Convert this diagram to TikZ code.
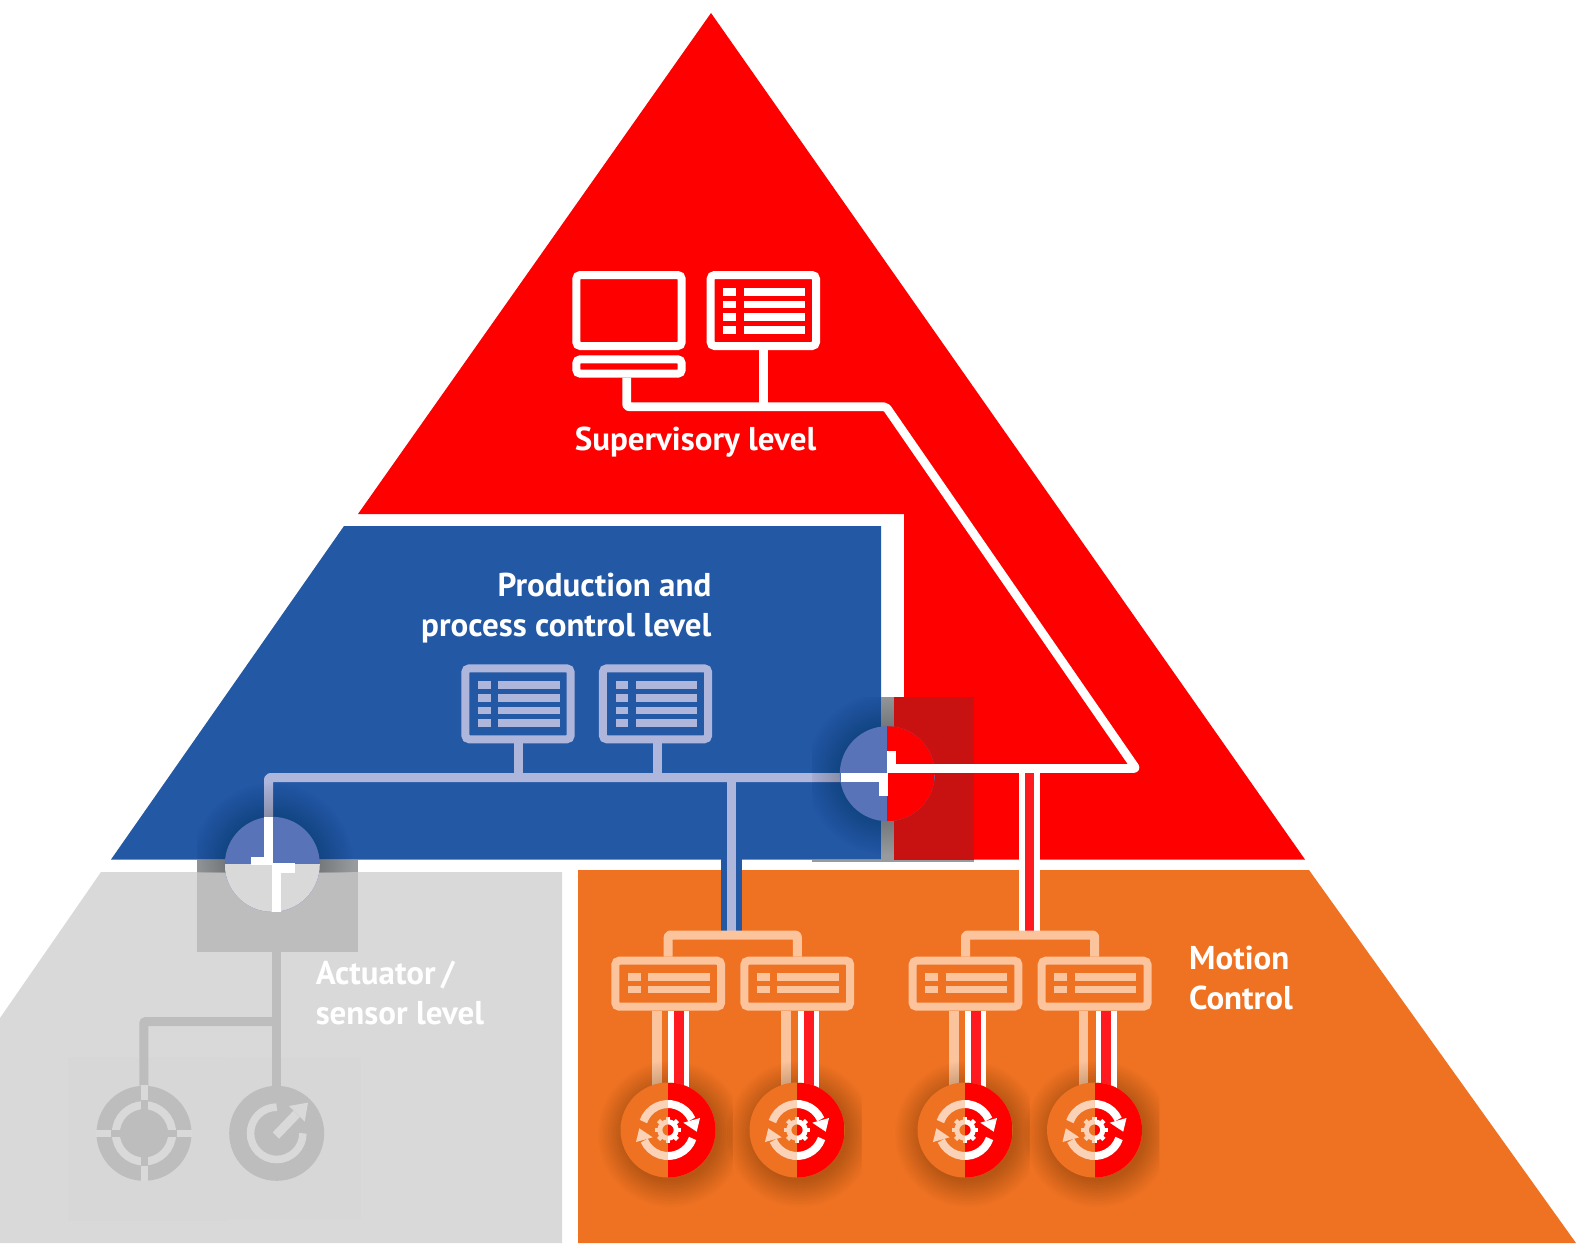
\documentclass[tikz,border=0pt]{standalone}
\usepackage{fontspec}
\newfontfamily\labelfont[FakeStretch=1.0]{PT Sans}
\definecolor{topred}{HTML}{FF0000}
\definecolor{darkred}{HTML}{C81212}
\definecolor{corered}{HTML}{FF1A1F}
\definecolor{midblue}{HTML}{2358A5}
\definecolor{hubblue}{HTML}{5873B8}
\definecolor{paleblue}{HTML}{AEB6DC}
\definecolor{motionorange}{HTML}{EF7222}
\definecolor{peach}{HTML}{FBC49C}
\definecolor{palepeach}{HTML}{FAD2B8}
\definecolor{fieldgrey}{HTML}{D9D9D9}
\definecolor{facegrey}{HTML}{D7D7D7}
\definecolor{shadegrey}{HTML}{BDBDBD}
\definecolor{stripgrey}{HTML}{989B9D}
\tikzset{
  box/.style={draw=#1, line width=8pt, rounded corners=4pt, inner sep=0pt},
  screen/.style={box=#1, minimum width=105.4pt, minimum height=71pt},
  keyboard/.style={box=#1, minimum width=105.4pt, minimum height=14.4pt},
  controller/.style={box=#1, minimum width=105.8pt, minimum height=46pt},
  link/.style={draw=#1, line width=9pt, line join=round, rounded corners=2pt},
  hub/.style={circle, minimum size=95pt, inner sep=0pt, fill=hubblue},
  title/.style={font=\labelfont\bfseries\fontsize{33}{40}\selectfont, text=white, inner sep=0pt},
}
\newcommand\listrows[4]{%
  \begin{scope}[shift={(#1.north west)}]
    \foreach \r in {#3} {
      \fill[#2] (16.7,{#4+12.6*\r}) rectangle +(12.7,7.7);
      \fill[#2] (37,{#4+12.6*\r}) rectangle +(61.5,7.7);
    }
  \end{scope}}
\newcommand\softglow[4]{%
  \foreach \g in {47,49,...,#3}
    \fill[black, fill opacity=#4] (#1,#2) circle [radius=\g];}
\newcommand\spinicon[1]{%
  \draw[#1, line width=8pt] (161:26) arc[start angle=161, end angle=24, radius=26];
  \fill[#1] (32,12) -- (15.3,7.3) -- (28.7,-1.7) -- cycle;
  \draw[#1, line width=8pt] (-19:26) arc[start angle=-19, end angle=-156, radius=26];
  \fill[#1] (-32,-12) -- (-15.3,-7.3) -- (-28.7,1.7) -- cycle;
  \draw[#1, line width=5pt] (0,0) circle [radius=8.2];
  \foreach \a in {0,45,...,315} \draw[#1, line width=4.5pt] (\a:9) -- (\a:13.3);}
\begin{document}
\begin{tikzpicture}[x=1pt, y=-1pt]
\useasboundingbox (0,0) rectangle (1576,1243);
\fill[fieldgrey] (101,872) -- (562,872) -- (562,1243) -- (0,1243) -- (0,1018) -- cycle;
\fill[motionorange] (578,870) -- (1309,870) -- (1576,1243) -- (578,1243) -- cycle;
\fill[topred] (711,13) -- (1305,859.5) -- (904,859.5) -- (904,514) -- (358,514) -- cycle;
\fill[midblue] (344,526) -- (881,526) -- (881,859.5) -- (111,859.5) -- cycle;
\fill[darkred] (894,697) rectangle (974,859.5);
\fill[stripgrey] (881,697) rectangle (894,859.5);
\fill[stripgrey] (812,859.5) rectangle (974,862);
\fill[shadegrey] (197,872) rectangle (358,952);
\fill[stripgrey] (197,859.5) rectangle (358,872);
\fill[facegrey] (68,1057) rectangle (229,1221);
\fill[facegrey] (229,1058) rectangle (361,1219);
%
\node[screen=white] (scrA) at (629,310.5) {};
\node[keyboard=white] (kbdA) at (629,366.5) {};
\node[screen=white] (scrB) at (763.3,310.5) {};
\listrows{scrB}{white}{0,1,2,3}{17}
\coordinate (turnA) at (626.7,406.7);
\coordinate (turnB) at (886,406.7);
\coordinate (turnC) at (1136,768.5);
\coordinate (hubIn) at (887,768.5);
\node[screen=paleblue] (scrC) at (518,703.8) {};
\node[screen=paleblue] (scrD) at (655.5,703.8) {};
\listrows{scrC}{paleblue}{0,1,2,3}{17}
\listrows{scrD}{paleblue}{0,1,2,3}{17}
\coordinate (busA) at (268.5,777.5);
\coordinate (busB) at (841,777.5);
\coordinate (tapC) at (518.2,777.5);
\coordinate (tapD) at (657.8,777.5);
\coordinate (tapE) at (731,777.5);
\coordinate (tapF) at (1029.5,773);
\coordinate (barA) at (733,935);
\coordinate (barB) at (1030.3,935);
\node[controller=peach] (ctlA) at (668.2,983.7) {};
\node[controller=peach] (ctlB) at (797.3,983.7) {};
\node[controller=peach] (ctlC) at (965.5,983.7) {};
\node[controller=peach] (ctlD) at (1094.6,983.7) {};
\foreach \c in {ctlA,ctlB,ctlC,ctlD} \listrows{\c}{peach}{0,1}{16.4}
%
\draw[link=midblue, line width=21pt, rounded corners=0pt] (tapE) -- (tapE |- barA);
\draw[link=paleblue, rounded corners=0pt] (tapE) -- (tapE |- barA);
\draw[link=white, line width=21pt, rounded corners=0pt] (tapF) -- (tapF |- barB);
\draw[link=corered, line width=9.5pt, rounded corners=0pt] (tapF) -- (tapF |- barB);
\draw[link=peach] (ctlA.north) |- (barA) -| (ctlB.north);
\draw[link=peach] (ctlC.north) |- (barB) -| (ctlD.north);
\draw[link=white, line width=8.6pt] (turnA |- kbdA.south) -- (turnA) -- (turnB) -- (turnC) -- (hubIn);
\draw[link=white, line width=8.6pt, rounded corners=0pt] (scrB.south) -- (scrB.south |- turnB);
\draw[link=paleblue] (busA |- 0,820) -- (busA) -- (busB);
\draw[link=paleblue, rounded corners=0pt] (tapC |- scrC.south) -- (tapC);
\draw[link=paleblue, rounded corners=0pt] (tapD |- scrD.south) -- (tapD);
%
\begin{scope}
\clip (197,760) rectangle (358,872);
\softglow{272.3}{864.3}{81}{.012}
\end{scope}
\begin{scope}
\clip (812,697) rectangle (894,862);
\softglow{887.3}{773.7}{81}{.012}
\end{scope}
%
\node[hub, path picture={\fill[topred] (path picture bounding box.north) rectangle (path picture bounding box.south east);}] (hubB) at (887.3,773.7) {};
\node[hub, path picture={\fill[fieldgrey] (path picture bounding box.west) rectangle (path picture bounding box.south east);}] (hubA) at (272.3,864.3) {};
\fill[white] (887,764) rectangle (935,773);
\fill[white] (887,751) rectangle (896,773);
\fill[white] (841,773) rectangle (888,782);
\fill[white] (879,773) rectangle (888,796);
\fill[white] (264,817) rectangle (273,865);
\fill[white] (251,857) rectangle (273,865);
\fill[white] (272,863) rectangle (295,873);
\fill[white] (272,863) rectangle (281,912);
%
\foreach \nm/\cx/\ctl/\off in {motA/668/ctlA/10.5,motB/797/ctlB/11.7,motC/965/ctlC/10.5,motD/1094.5/ctlD/11.7} {
  \coordinate (\nm p) at ({\cx-11},1090);
  \coordinate (\nm r) at ({\cx+\off},1090);
  \draw[link=peach, line width=9.6pt, rounded corners=0pt] (\nm p |- \ctl.south) -- (\nm p);
  \begin{scope}
    \clip ({\cx-72},1045) rectangle ({\cx+64.5},1215);
    \softglow{\cx+3}{1134}{73}{.014}
  \end{scope}
  \draw[link=white, line width=21pt, rounded corners=0pt] (\nm r |- \ctl.south) -- (\nm r);
  \draw[link=corered, line width=10pt, rounded corners=0pt] (\nm r |- \ctl.south) -- (\nm r);
  \node[circle, minimum size=95pt, inner sep=0pt, fill=motionorange, path picture={\fill[topred] (path picture bounding box.north) rectangle (path picture bounding box.south east);}] (\nm) at (\cx,1130) {};
  \begin{scope}[shift={(\nm)}, yscale=-1]
    \begin{scope}
      \clip (-48,-48) rectangle (0,48);
      \spinicon{palepeach}
    \end{scope}
    \begin{scope}
      \clip (0,-48) rectangle (48,48);
      \spinicon{white}
    \end{scope}
  \end{scope}
}
%
\coordinate (joinG) at (143.8,1021.6);
\node[circle, minimum size=95pt, inner sep=0pt, fill=shadegrey] (sensA) at (144,1133.3) {};
\node[circle, minimum size=95pt, inner sep=0pt, fill=shadegrey] (sensB) at (276.7,1133.3) {};
\draw[link=shadegrey, rounded corners=1pt] (sensA.north) -- (joinG) -- (joinG -| sensB) ;
\draw[link=shadegrey, rounded corners=0pt] (276,952) -- (276,1090);
\begin{scope}[shift={(sensA)}, yscale=-1]
  \draw[fieldgrey, line width=8pt] (0,0) circle [radius=28.2];
  \foreach \a in {0,90,180,270} {
    \draw[shadegrey, line width=7pt] (\a:22) -- (\a:33);
    \draw[fieldgrey, line width=7pt] (\a:33) -- (\a:48);
  }
\end{scope}
\begin{scope}[shift={(sensB)}, yscale=-1]
  \draw[fieldgrey, line width=7.6pt] (0,26.2) arc[start angle=90, end angle=360, radius=26.2];
  \fill[fieldgrey] (31.3,30.7) -- (12.3,27.3) -- (28,11.7) -- cycle;
  \draw[fieldgrey, line width=9pt] (-0.8,-2.2) -- (20,19.5);
\end{scope}
%
\node[title, anchor=base] (lblSup) at (695.5,450) {Supervisory level};
\node[title, anchor=east, align=right] (lblPro) at (711.5,608) {Production and\\process control level};
\node[title, anchor=west, align=left] (lblAct) at (315.6,993) {Actuator\,/\\sensor level};
\node[title, anchor=west, align=left] (lblMot) at (1189,978) {Motion\\Control};
\end{tikzpicture}
\end{document}
